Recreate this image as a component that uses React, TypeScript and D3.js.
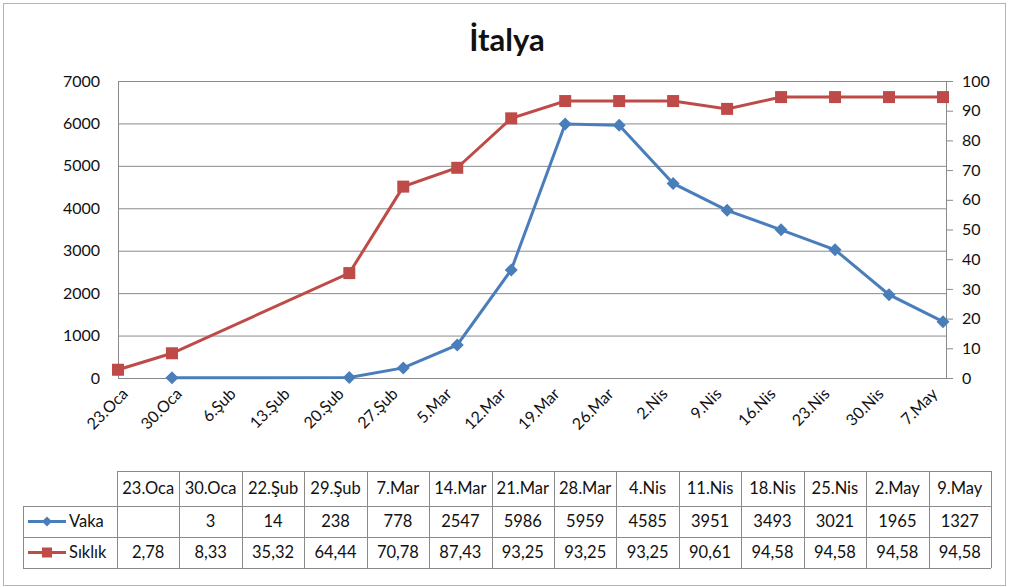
import React from "react";
import * as d3 from "d3";

// --- data ---
const dates = [
  new Date(2020, 0, 23), new Date(2020, 0, 30), new Date(2020, 1, 22), new Date(2020, 1, 29),
  new Date(2020, 2, 7), new Date(2020, 2, 14), new Date(2020, 2, 21), new Date(2020, 2, 28),
  new Date(2020, 3, 4), new Date(2020, 3, 11), new Date(2020, 3, 18), new Date(2020, 3, 25),
  new Date(2020, 4, 2), new Date(2020, 4, 9),
];
const tableLabels = ["23.Oca", "30.Oca", "22.Şub", "29.Şub", "7.Mar", "14.Mar", "21.Mar", "28.Mar", "4.Nis", "11.Nis", "18.Nis", "25.Nis", "2.May", "9.May"];
const vaka: (number | null)[] = [null, 3, 14, 238, 778, 2547, 5986, 5959, 4585, 3951, 3493, 3021, 1965, 1327];
const siklik = [2.78, 8.33, 35.32, 64.44, 70.78, 87.43, 93.25, 93.25, 93.25, 90.61, 94.58, 94.58, 94.58, 94.58];
const months = ["Oca", "Şub", "Mar", "Nis", "May"];
const leftTicks = [0, 1000, 2000, 3000, 4000, 5000, 6000, 7000];
const rightTicks = [0, 10, 20, 30, 40, 50, 60, 70, 80, 90, 100];

const W = 1009, H = 587;
const BLUE = "#4a7ebb", RED = "#be4b48", GRID = "#8a8a8a";
const FONT = "Lato, 'Open Sans', sans-serif";

export default function App() {
  const x = d3.scaleTime().domain([dates[0], dates[dates.length - 1]]).range([118, 943]);
  const yL = d3.scaleLinear().domain([0, 7000]).range([378, 81]);
  const yR = d3.scaleLinear().domain([0, 100]).range([378, 81]);
  const plotRight = 946;

  const xTicks = d3.timeDay.range(dates[0], d3.timeDay.offset(dates[dates.length - 1], 1), 7);
  const fmt = (d: Date) => `${d.getDate()}.${months[d.getMonth()]}`;

  const vakaLine = d3.line<number | null>()
    .defined(d => d != null)
    .x((_, i) => x(dates[i]))
    .y(d => yL(d as number));
  const sikLine = d3.line<number>()
    .x((_, i) => x(dates[i]))
    .y(d => yR(d));

  // table geometry
  const tLeft = 23, tCol0 = 117, tRight = 991;
  const colW = (tRight - tCol0) / tableLabels.length;
  const rows = [471, 506, 537, 568];

  return (
    <svg width={W} height={H} style={{ position: "absolute", left: 0, top: 0, fontFamily: FONT }}>
      <rect x={0} y={0} width={W} height={H} fill="#fff" />
      <rect x={3.5} y={3.5} width={1002} height={582} fill="none" stroke="#b4b4b4" />

      <text x={507} y={51} textAnchor="middle" fontSize={31} fontWeight="bold" fill="#111">İtalya</text>

      {/* gridlines */}
      {leftTicks.map(t => (
        <line key={t} x1={118} x2={plotRight} y1={yL(t) + 0.5} y2={yL(t) + 0.5} stroke={GRID} />
      ))}
      <line x1={118.5} x2={118.5} y1={81} y2={378} stroke={GRID} />
      <line x1={plotRight + 0.5} x2={plotRight + 0.5} y1={81} y2={378} stroke={GRID} />
      {rightTicks.map(t => (
        <line key={t} x1={plotRight} x2={plotRight + 7} y1={yR(t) + 0.5} y2={yR(t) + 0.5} stroke={GRID} />
      ))}

      {/* axis labels */}
      {leftTicks.map(t => (
        <text key={t} x={100} y={yL(t)} dy="0.35em" textAnchor="end" fontSize={16} fill="#111">{t}</text>
      ))}
      {rightTicks.map(t => (
        <text key={t} x={962} y={yR(t)} dy="0.35em" textAnchor="start" fontSize={16} fill="#111">{t}</text>
      ))}
      {xTicks.map(d => (
        <text key={+d} transform={`translate(${x(d) + 7},${391}) rotate(-45)`} textAnchor="end" dy="0.35em" fontSize={16} fill="#111">{fmt(d)}</text>
      ))}

      {/* series */}
      <path d={sikLine(siklik) || ""} fill="none" stroke={RED} strokeWidth={3} />
      <path d={vakaLine(vaka) || ""} fill="none" stroke={BLUE} strokeWidth={3} />
      {siklik.map((v, i) => (
        <rect key={i} x={x(dates[i]) - 6} y={yR(v) - 6} width={12} height={12} fill={RED} />
      ))}
      {vaka.map((v, i) => v == null ? null : (
        <path key={i} d={`M${x(dates[i])},${yL(v) - 6.5}l6.5,6.5l-6.5,6.5l-6.5,-6.5z`} fill={BLUE} />
      ))}

      {/* data table */}
      <g fontSize={16.5} fill="#111">
        <line x1={tCol0} x2={tRight} y1={rows[0] + 0.5} y2={rows[0] + 0.5} stroke={GRID} />
        {rows.slice(1).map(r => (
          <line key={r} x1={tLeft} x2={tRight} y1={r + 0.5} y2={r + 0.5} stroke={GRID} />
        ))}
        <line x1={tLeft + 0.5} x2={tLeft + 0.5} y1={rows[1]} y2={rows[3]} stroke={GRID} />
        {d3.range(tableLabels.length + 1).map(i => (
          <line key={i} x1={Math.round(tCol0 + i * colW) + 0.5} x2={Math.round(tCol0 + i * colW) + 0.5} y1={rows[0]} y2={rows[3]} stroke={GRID} />
        ))}
        {tableLabels.map((l, i) => (
          <text key={l} x={tCol0 + (i + 0.5) * colW} y={(rows[0] + rows[1]) / 2} dy="0.35em" textAnchor="middle">{l}</text>
        ))}
        {vaka.map((v, i) => v == null ? null : (
          <text key={i} x={tCol0 + (i + 0.5) * colW} y={(rows[1] + rows[2]) / 2} dy="0.35em" textAnchor="middle">{v}</text>
        ))}
        {siklik.map((v, i) => (
          <text key={i} x={tCol0 + (i + 0.5) * colW} y={(rows[2] + rows[3]) / 2} dy="0.35em" textAnchor="middle">{v.toFixed(2).replace(".", ",")}</text>
        ))}

        {/* legend keys */}
        <line x1={28} x2={66} y1={(rows[1] + rows[2]) / 2} y2={(rows[1] + rows[2]) / 2} stroke={BLUE} strokeWidth={3} />
        <path d={`M47,${(rows[1] + rows[2]) / 2 - 5}l5,5l-5,5l-5,-5z`} fill={BLUE} />
        <text x={69} y={(rows[1] + rows[2]) / 2} dy="0.35em">Vaka</text>
        <line x1={28} x2={66} y1={(rows[2] + rows[3]) / 2} y2={(rows[2] + rows[3]) / 2} stroke={RED} strokeWidth={3} />
        <rect x={42} y={(rows[2] + rows[3]) / 2 - 5} width={10} height={10} fill={RED} />
        <text x={69} y={(rows[2] + rows[3]) / 2} dy="0.35em">Sıklık</text>
      </g>
    </svg>
  );
}
